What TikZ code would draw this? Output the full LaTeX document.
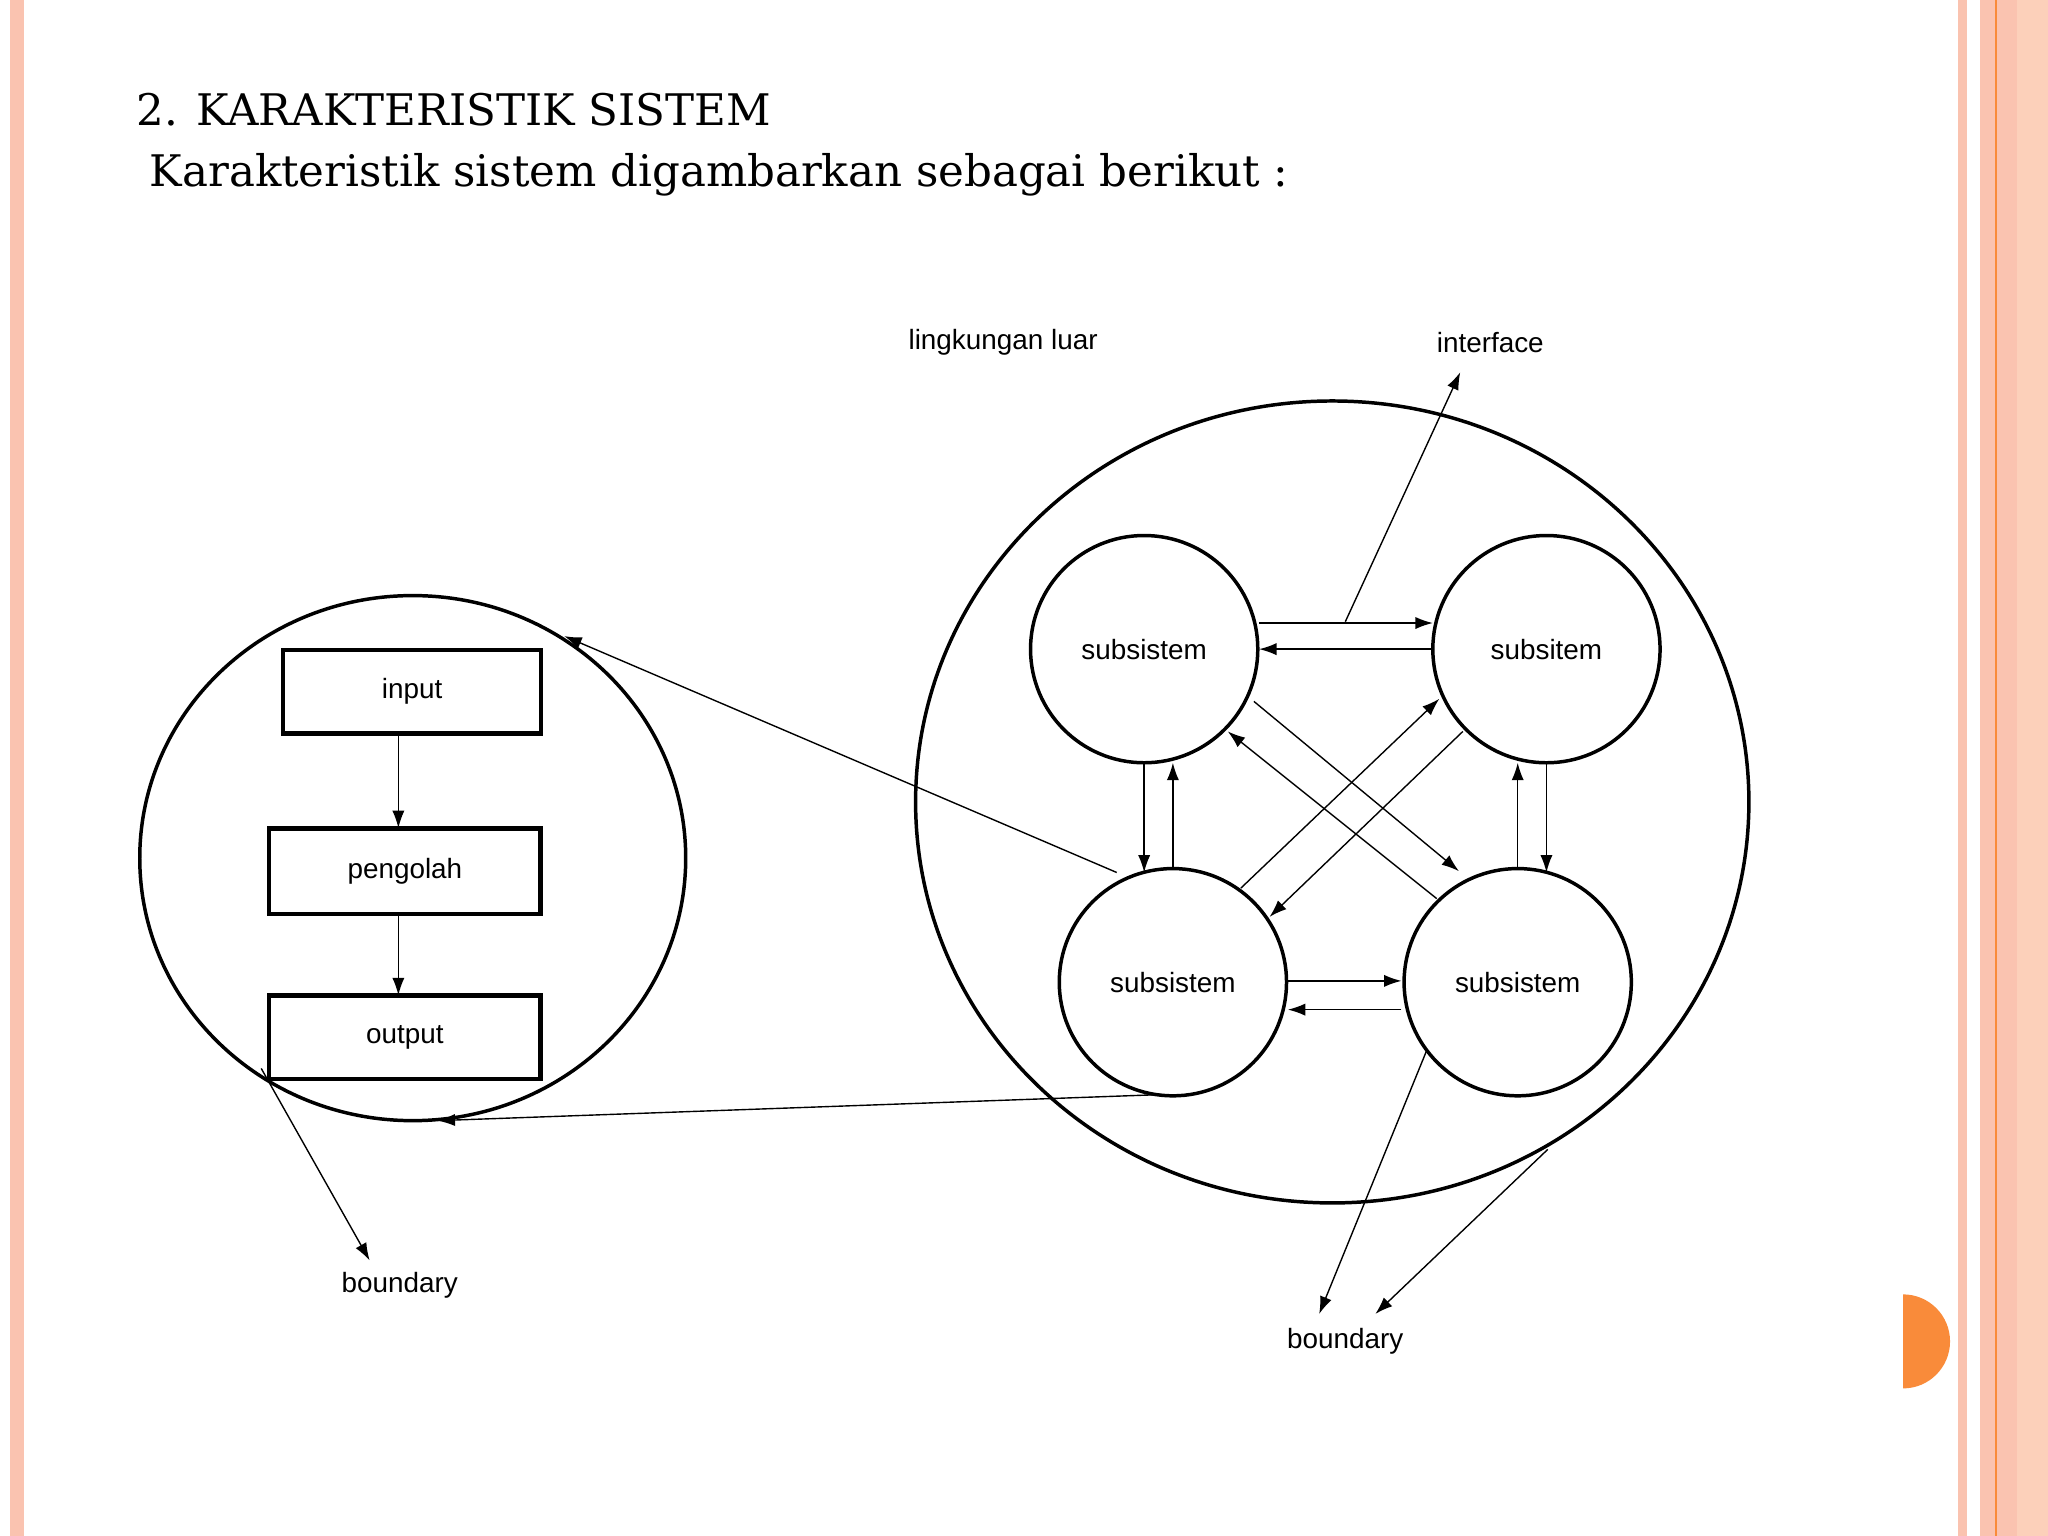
\documentclass[tikz,border=0pt]{standalone}
\usepackage{fontspec}
\newfontfamily\dsans{Liberation Sans}
\newfontfamily\dserif{DejaVu Serif}
\usetikzlibrary{arrows.meta}
\definecolor{pk}{HTML}{FAC3B0}
\definecolor{pkl}{HTML}{FCD0BA}
\definecolor{org}{HTML}{F98B3A}
\begin{document}
\begin{tikzpicture}[x=0.75pt,y=-0.75pt,
  lbl/.style={font=\dsans\fontsize{16}{18}\selectfont},
  box/.style={draw,line width=2.6pt},
  ln/.style={line width=0.8pt},
  ar/.style={ln,-{Latex[length=10pt,width=7pt]}},
  sub/.style={draw,line width=2pt,circle,minimum size=130.5pt,lbl}]
\useasboundingbox (0,0) rectangle (1568,1176);
\fill[white] (0,0) rectangle (1568,1176);
\fill[pk] (8,0) rectangle (18,1176);
\fill[pk] (1499,0) rectangle (1506,1176);
\fill[pk] (1516,0) rectangle (1544,1176);
\fill[pkl] (1544,0) rectangle (1568,1176);
\draw[org,line width=1pt] (1528,0) -- (1528,1176);
\fill[org] (1457,991) arc (-90:90:36) -- cycle;
\node[anchor=base west,font=\dserif\fontsize{25}{30}\selectfont] (t1) at (100,96) {2. KARAKTERISTIK SISTEM};
\node[anchor=base west,font=\dserif\fontsize{25}{30}\selectfont] (t2) at (110,143) {Karakteristik sistem digambarkan sebagai berikut :};
% left
\draw[line width=2pt] (316,657) ellipse (209 and 201);
\node[box,minimum width=148pt,minimum height=48pt,lbl] (in) at (315.5,529.5) {input};
\node[box,minimum width=156pt,minimum height=49pt,lbl] (pe) at (310,667) {pengolah};
\node[box,minimum width=156pt,minimum height=48pt,lbl] (ou) at (310,794) {output};
\draw[ar] (305,562) -- (305,634);
\draw[ar] (305,700) -- (305,762);
\node[lbl] (b1) at (306,984) {boundary};
\coordinate (b1s) at (200,818);
\draw[ar] (b1s) -- (283,965);
% right
\draw[line width=2pt] (1020,614) ellipse (319 and 307);
\node[sub] (tl) at (876,497) {subsistem};
\node[sub] (tr) at (1184,497) {subsitem};
\node[sub] (bl) at (898,752) {subsistem};
\node[sub] (br) at (1162,752) {subsistem};
\draw[ar] (964,477) -- (1097,477);
\draw[ar] (1097,497) -- (964,497);
\draw[ar] (986,751) -- (1073,751);
\draw[ar] (1073,773) -- (986,773);
\draw[ar] (876,584) -- (876,668);
\draw[ar] (898,665) -- (898,584);
\draw[ar] (1184,584) -- (1184,668);
\draw[ar] (1162,665) -- (1162,584);
\draw[ar] (960,537) -- (1117,667);
\draw[ar] (1100,688) -- (940,560);
\draw[ar] (950,680) -- (1102,535);
\draw[ar] (1120,560) -- (972,702);
\node[lbl] (lu) at (768,262) {lingkungan luar};
\node[lbl] (if) at (1141,262) {interface};
\draw[ar] (1030,476) -- (1118,285);
\draw[ar] (855,668) -- (432,487);
\draw[ar] (890,838) -- (335,858);
\node[lbl] (b2) at (1030,1027) {boundary};
\draw[ar] (1092,805) -- (1010,1006);
\draw[ar] (1185,880) -- (1053,1006);
\end{tikzpicture}
\end{document}
